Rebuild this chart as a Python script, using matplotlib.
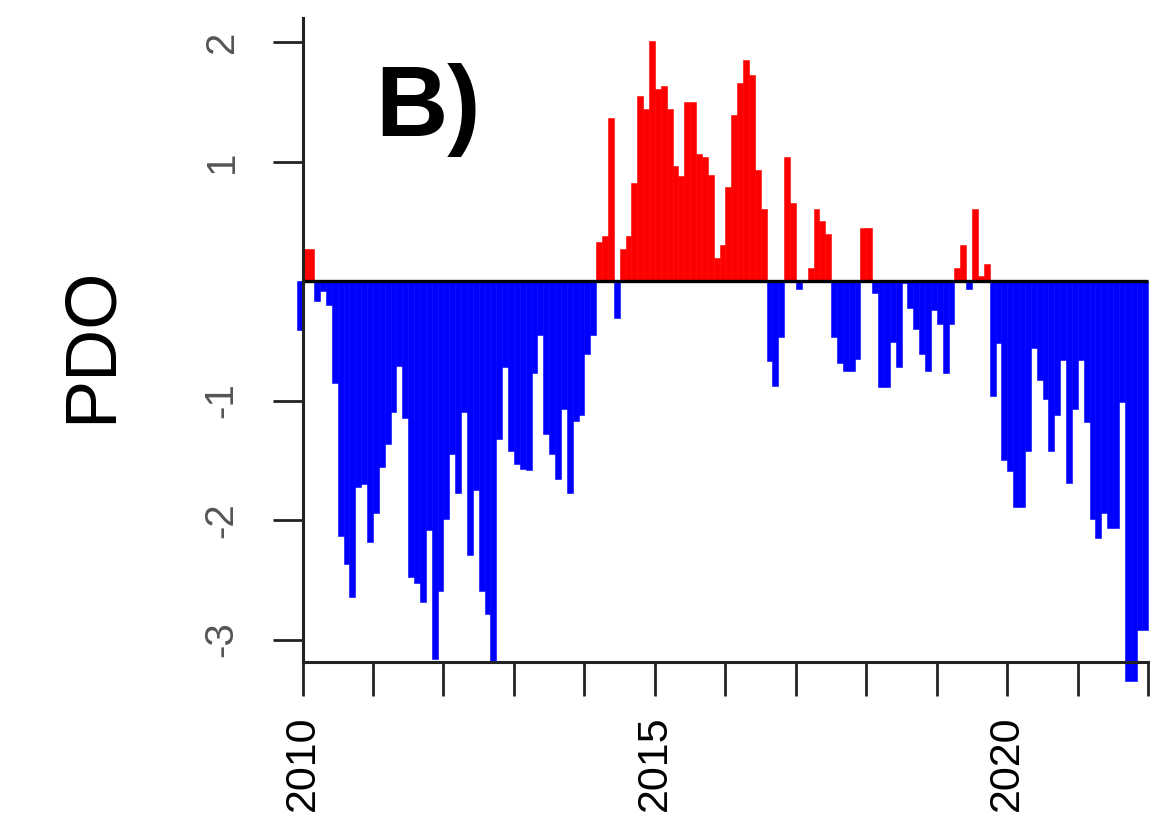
import matplotlib
matplotlib.use("Agg")
import matplotlib.pyplot as plt
from matplotlib import font_manager as fm
import numpy as np

# ---------------- data (monthly PDO index) ----------------
pdo_2009_dec = [-0.41]
pdo_2010 = [0.27, 0.27, -0.17, -0.08, -0.20, -0.85, -2.13, -2.37, -2.64, -1.72, -1.70, -2.18]
pdo_2011 = [-1.94, -1.56, -1.36, -1.10, -0.71, -1.15, -2.48, -2.53, -2.69, -2.08, -3.16, -2.59]
pdo_2012 = [-1.99, -1.45, -1.77, -1.10, -2.29, -1.75, -2.59, -2.79, -3.19, -1.32, -0.72, -1.42]
pdo_2013 = [-1.53, -1.57, -1.58, -0.77, -0.45, -1.28, -1.45, -1.66, -1.07, -1.77, -1.17, -1.12]
pdo_2014 = [-0.61, -0.45, 0.33, 0.38, 1.36, -0.31, 0.27, 0.38, 0.82, 1.55, 1.44, 2.01]
pdo_2015 = [1.61, 1.63, 1.44, 0.96, 0.88, 1.50, 1.50, 1.06, 1.04, 0.89, 0.19, 0.30]
pdo_2016 = [0.79, 1.39, 1.66, 1.85, 1.72, 0.93, 0.60, -0.67, -0.88, -0.47, 1.04, 0.65]
pdo_2017 = [-0.07, 0.00, 0.11, 0.60, 0.50, 0.39, -0.47, -0.69, -0.75, -0.75, -0.65, 0.44]
pdo_2018 = [0.44, -0.10, -0.89, -0.89, -0.51, -0.72, -0.02, -0.23, -0.40, -0.61, -0.75, -0.24]
pdo_2019 = [-0.36, -0.77, -0.36, 0.11, 0.30, -0.07, 0.60, 0.04, 0.14, -0.96, -0.52, -1.50]
pdo_2020 = [-1.59, -1.89, -1.89, -1.42, -0.56, -0.83, -0.99, -1.42, -1.12, -0.66, -1.69, -1.07]
pdo_2021 = [-0.66, -1.18, -1.99, -2.15, -1.94, -2.07, -2.07, -1.01, -3.35, -3.35, -2.92, -2.92]

start_year = 2009 + 11 / 12.0          # first value is December 2009
year_ticks = list(range(2010, 2023))
labelled_years = [2010, 2015, 2020]
y_ticks = [-3, -2, -1, 1, 2]
panel_label = "B)"
y_label = "PDO"

values = np.array(pdo_2009_dec + pdo_2010 + pdo_2011 + pdo_2012 + pdo_2013 + pdo_2014
                  + pdo_2015 + pdo_2016 + pdo_2017 + pdo_2018 + pdo_2019 + pdo_2020
                  + pdo_2021)
months = start_year + np.arange(len(values)) / 12.0

# ---------------- fonts ----------------
narrow_path = None
for f in fm.fontManager.ttflist:
    if f.name == "Liberation Sans Narrow" and f.weight in (400, "normal", "regular") \
            and f.style == "normal":
        narrow_path = f.fname
        break
names = {f.name for f in fm.fontManager.ttflist}
regular = "Liberation Sans" if "Liberation Sans" in names else "DejaVu Sans"

if narrow_path:
    label_font = fm.FontProperties(fname=narrow_path)
    xsize, ysize, pdosize = 34, 30, 60
else:
    label_font = fm.FontProperties(family=regular)
    xsize, ysize, pdosize = 31, 29, 52

# ---------------- figure ----------------
W, H = 1165, 819
fig = plt.figure(figsize=(W / 100, H / 100), dpi=100)
ax = fig.add_axes([0.25361, 0.15348, 0.73811, 0.82442])

colors = np.where(values >= 0, "#ff0000", "#0000ff")
ax.bar(months, values, width=1 / 12.0, align="edge", color=colors,
       edgecolor=colors, linewidth=0.4, zorder=1)

ax.plot([2010, 2022], [0, 0], color="black", lw=2.4, zorder=3, solid_capstyle="butt")

ax.set_xlim(2009.9, 2022.1)
ax.set_ylim(-3.45, 2.2)

for s in ["top", "right"]:
    ax.spines[s].set_visible(False)
ax.spines["left"].set_position(("data", 2010))
ax.spines["bottom"].set_position(("data", -3.19))
ax.spines["left"].set_bounds(-3.19, 2.2)
ax.spines["bottom"].set_bounds(2010, 2022)
for s in ["left", "bottom"]:
    ax.spines[s].set_linewidth(2.2)
    ax.spines[s].set_color("#222222")
    ax.spines[s].set_zorder(4)

ax.set_xticks(year_ticks)
ax.set_xticklabels([str(y) if y in labelled_years else "" for y in year_ticks],
                   rotation=90, color="black")
ax.set_yticks(y_ticks)
ax.set_yticklabels([str(v) for v in y_ticks], rotation=90, color="#555555", va="center")
for t in ax.get_xticklabels():
    t.set_fontproperties(label_font)
    t.set_fontsize(xsize)
for t in ax.get_yticklabels():
    t.set_fontproperties(label_font)
    t.set_fontsize(ysize)
ax.tick_params(axis="x", length=24.5, width=2.0, color="#222222", pad=14)
ax.tick_params(axis="y", length=21.5, width=2.0, color="#222222", pad=23)

fig.text(375 / W, (H - 136) / H, panel_label, fontsize=72, fontweight="bold",
         fontfamily=regular, ha="left", va="baseline")
t = fig.text(92 / W, (H - 345) / H, y_label, rotation=90, ha="center", va="center")
t.set_fontproperties(label_font)
t.set_fontsize(pdosize)

fig.savefig("out.png", dpi=100, facecolor="white")
